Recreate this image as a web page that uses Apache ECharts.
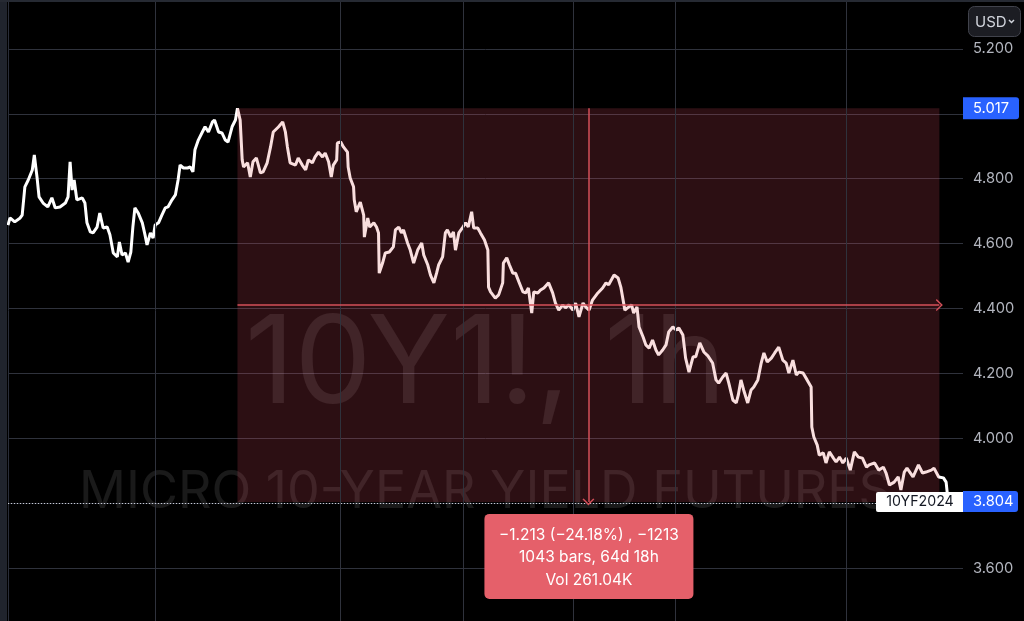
<!DOCTYPE html>
<html><head><meta charset="utf-8">
<script src="https://cdn.jsdelivr.net/npm/echarts@6/dist/echarts.min.js"></script>
<style>html,body{margin:0;padding:0;background:#000;}#c{width:1024px;height:621px;}</style>
</head><body><div id="c"></div>
<script>
// [bar number, close] (hourly bars)
const seg1 = [[0,4.657],[3,4.679],[10,4.667],[18,4.679],[21,4.688],[25,4.775],[30,4.796],[36,4.827],[39,4.873],[43,4.805],[46,4.744],[52,4.725],[59,4.713],[65,4.741],[70,4.710],[77,4.713],[85,4.725],[89,4.744],[92,4.852],[95,4.765],[98,4.796],[102,4.735],[110,4.741],[114,4.725],[117,4.664],[122,4.636],[126,4.633],[132,4.651],[136,4.694],[141,4.648],[147,4.651],[151,4.627],[156,4.571],[162,4.559],[165,4.605],[169,4.565],[174,4.571],[178,4.543],[182,4.574],[185,4.651],[188,4.710],[193,4.694],[199,4.664],[203,4.627],[206,4.596],[211,4.633],[215,4.617],[218,4.657],[223,4.664],[228,4.688],[233,4.710],[237,4.713],[243,4.735],[248,4.750],[252,4.796],[255,4.842],[260,4.833],[266,4.833],[270,4.836],[274,4.821],[277,4.889],[282,4.919],[288,4.944],[292,4.960],[297,4.944],[303,4.975],[306,4.981],[312,4.944],[317,4.941],[322,4.919],[326,4.913],[332,4.960],[337,4.981],[340,5.017]];
const seg2 = [[344,4.981],[347,4.858],[349,4.836],[355,4.849],[359,4.805],[363,4.852],[368,4.864],[374,4.818],[378,4.821],[384,4.849],[389,4.898],[393,4.944],[401,4.960],[407,4.975],[411,4.944],[414,4.898],[418,4.849],[426,4.842],[430,4.864],[436,4.842],[441,4.827],[445,4.858],[451,4.849],[455,4.867],[460,4.882],[466,4.867],[470,4.879],[475,4.852],[479,4.805],[482,4.842],[487,4.858],[488,4.910],[493,4.913],[497,4.898],[503,4.882],[504,4.836],[507,4.802],[512,4.775],[513,4.735],[516,4.698],[519,4.713],[522,4.728],[527,4.688],[528,4.620],[533,4.679],[536,4.651],[542,4.664],[546,4.651],[549,4.633],[550,4.509],[555,4.540],[559,4.571],[565,4.574],[571,4.590],[574,4.642],[579,4.651],[583,4.633],[586,4.642],[592,4.602],[596,4.580],[601,4.540],[607,4.580],[613,4.602],[616,4.565],[622,4.534],[626,4.503],[631,4.479],[635,4.509],[638,4.534],[644,4.559],[648,4.633],[651,4.642],[656,4.620],[660,4.636],[663,4.580],[668,4.633],[674,4.651],[678,4.664],[682,4.651],[687,4.698],[690,4.648],[696,4.648],[700,4.633],[706,4.611],[711,4.580],[712,4.466]];
const seg3 = [[715,4.451],[722,4.432],[727,4.442],[733,4.479],[734,4.540],[739,4.556],[743,4.534],[748,4.509],[752,4.509],[757,4.482],[763,4.451],[767,4.448],[771,4.463],[776,4.386],[779,4.451],[785,4.448],[789,4.457],[794,4.463],[801,4.479],[807,4.448],[811,4.417],[816,4.395],[822,4.411],[826,4.402],[831,4.411],[837,4.395],[841,4.417],[846,4.374],[852,4.417],[856,4.405],[861,4.395],[866,4.426],[874,4.448],[881,4.463],[886,4.479],[890,4.473],[898,4.503],[904,4.494],[908,4.466],[914,4.395],[918,4.402],[924,4.411],[927,4.386],[932,4.405],[935,4.343],[941,4.312],[945,4.288],[950,4.278],[955,4.303],[960,4.272],[964,4.257],[970,4.272],[975,4.288],[979,4.328],[985,4.343],[990,4.334],[994,4.340],[1000,4.318],[1004,4.247],[1009,4.204],[1015,4.251],[1019,4.251],[1025,4.294],[1031,4.266],[1037,4.254]];
const seg4 = [[1044,4.232],[1049,4.180],[1053,4.170],[1059,4.189],[1064,4.201],[1068,4.170],[1074,4.118],[1079,4.109],[1082,4.133],[1086,4.180],[1090,4.149],[1096,4.109],[1101,4.149],[1105,4.158],[1111,4.180],[1116,4.232],[1120,4.263],[1125,4.235],[1131,4.247],[1136,4.263],[1142,4.281],[1148,4.241],[1153,4.232],[1157,4.201],[1163,4.241],[1168,4.195],[1172,4.204],[1178,4.201],[1184,4.180],[1190,4.158],[1191,4.035],[1194,4.004],[1199,3.979],[1202,3.948],[1208,3.955],[1212,3.924],[1217,3.958],[1223,3.939],[1227,3.927],[1232,3.942],[1237,3.924],[1242,3.939],[1248,3.902],[1254,3.958],[1260,3.942],[1266,3.939],[1272,3.911],[1276,3.918],[1284,3.924],[1290,3.902],[1297,3.911],[1301,3.893],[1306,3.856],[1313,3.865],[1319,3.881],[1323,3.841],[1328,3.896],[1332,3.908],[1341,3.881],[1349,3.918],[1355,3.893],[1360,3.896],[1368,3.902],[1372,3.908],[1379,3.881],[1386,3.878],[1390,3.865],[1393,3.804]];

const measureStart = [340, 5.017];
const measureEnd = [1380, 3.804];
const lastPrice = 3.804;
const timeGridBars = [218, 493, 675, 837, 988, 1242];
const priceMin = 3.4, priceMax = 5.4, priceStep = 0.2;
const measureText = ['\u22121.213 (\u221224.18%) , \u22121213', '1043 bars, 64d 18h', 'Vol 261.04K'];
const symbolLabel = '10YF2024';
const watermarkText = ['10Y1!, 1h', 'MICRO 10-YEAR YIELD FUTURES'];
const currencyLabel = 'USD';

const closes = seg1.concat(seg2, seg3, seg4);
const FONT = 'Inter, "Noto Sans", sans-serif';
const chart = echarts.init(document.getElementById('c'), null, {renderer: 'canvas'});
const midPrice = (measureStart[1] + measureEnd[1]) / 2;
const midBar = (measureStart[0] + measureEnd[0]) / 2;
const chev = 'path://M0,7 L6,0 L12,7 L10.8,7.9 L6,2.3 L1.2,7.9 Z';
const red = '#d4505a';

chart.setOption({
  backgroundColor: '#000',
  animation: false,
  grid: {left: 8, right: 61, top: -16, bottom: -12, outerBoundsMode: 'none', containLabel: false},
  xAxis: {type: 'value', min: 0, max: 1415, show: false},
  yAxis: {
    type: 'value', position: 'right', min: priceMin, max: priceMax, interval: priceStep,
    axisLine: {show: true, lineStyle: {color: '#2a2e39'}}, axisTick: {show: false},
    axisLabel: {color: '#b2b5be', fontSize: 14.7, fontFamily: FONT, margin: 10, formatter: v => v.toFixed(3)},
    splitLine: {lineStyle: {color: '#2f323c', width: 1}}
  },
  visualMap: {
    show: false, type: 'piecewise', seriesIndex: 2, dimension: 0,
    pieces: [{lt: measureStart[0], color: '#ffffff'}, {gte: measureStart[0], lte: measureEnd[0], color: '#f9dede'}, {gt: measureEnd[0], color: '#ffffff'}]
  },
  series: [
    {type: 'line', name: 'grid', data: [], silent: true, z: 1,
      markLine: {silent: true, symbol: 'none', animation: false, label: {show: false},
        lineStyle: {color: '#2f323c', width: 1, type: 'solid'},
        data: timeGridBars.map(b => ({xAxis: b})).concat([{yAxis: lastPrice, lineStyle: {type: [1, 2], color: '#c9ccd4', width: 1}}])}},
    {type: 'line', name: 'measure', data: [], silent: true, z: 1,
      markArea: {silent: true, itemStyle: {color: 'rgba(235,80,100,0.19)'},
        data: [[{coord: measureStart}, {coord: measureEnd}]]},
      markLine: {silent: true, animation: false, symbol: ['none', chev], symbolSize: [12, 7],
        label: {show: false}, lineStyle: {color: red, width: 1.5, type: 'solid'},
        data: [[{coord: [measureStart[0], midPrice]}, {coord: [measureEnd[0], midPrice]}],
               [{coord: [midBar, measureStart[1]]}, {coord: [midBar, measureEnd[1]]}]]}},
    {type: 'line', name: '10Y1!', data: closes, showSymbol: false, z: 3,
      lineStyle: {width: 3}}
  ]
});

const px = (b, p) => chart.convertToPixel({gridIndex: 0}, [b, p]);
const axisX = px(1415, 4)[0];
const yTop = px(0, measureStart[1])[1];
const yLast = px(0, lastPrice)[1];
const cx = px(midBar, 4)[0];
const yBoxBottom = px(0, measureEnd[1])[1];

chart.setOption({
  graphic: [
    {type: 'text', z: 0, silent: true, x: (8 + axisX) / 2, y: 366,
      style: {text: watermarkText[0], fontSize: 122, fontFamily: FONT, fill: 'rgba(255,255,255,0.1)', align: 'center', verticalAlign: 'middle'}},
    {type: 'text', z: 0, silent: true, x: (8 + axisX) / 2, y: 492,
      style: {text: watermarkText[1], fontSize: 52, fontFamily: FONT, fill: 'rgba(255,255,255,0.1)', align: 'center', verticalAlign: 'middle'}},
    {type: 'rect', z: 50, silent: true, shape: {x: 0, y: 0, width: 7, height: 621}, style: {fill: '#20242d'}},
    {type: 'rect', z: 50, silent: true, shape: {x: 0, y: 0, width: 1024, height: 2}, style: {fill: '#262a33'}},
    // price labels
    {type: 'rect', z: 60, silent: true, shape: {x: axisX, y: yTop - 11, width: 56, height: 22, r: [0, 3, 3, 0]}, style: {fill: '#2962ff'}},
    {type: 'text', z: 61, silent: true, x: axisX + 10, y: yTop, style: {text: measureStart[1].toFixed(3), fontSize: 14.7, fontFamily: FONT, fill: '#fff', verticalAlign: 'middle'}},
    {type: 'rect', z: 60, silent: true, shape: {x: axisX, y: yLast - 11, width: 55, height: 21, r: [0, 3, 3, 0]}, style: {fill: '#2962ff'}},
    {type: 'text', z: 61, silent: true, x: axisX + 10, y: yLast, style: {text: lastPrice.toFixed(3), fontSize: 14.7, fontFamily: FONT, fill: '#fff', verticalAlign: 'middle'}},
    {type: 'rect', z: 60, silent: true, shape: {x: axisX - 87, y: yLast - 10, width: 87, height: 20, r: [2, 0, 0, 2]}, style: {fill: '#ffffff'}},
    {type: 'text', z: 61, silent: true, x: axisX - 43, y: yLast, style: {text: symbolLabel, fontSize: 14.2, fontFamily: FONT, fill: '#131722', align: 'center', verticalAlign: 'middle'}},
    // measure info box
    {type: 'rect', z: 60, silent: true, shape: {x: cx - 104, y: yBoxBottom + 12, width: 209, height: 85, r: 5}, style: {fill: '#e5606a'}},
    {type: 'text', z: 61, silent: true, x: cx + 0.5, y: yBoxBottom + 33, style: {text: measureText[0], fontSize: 15.5, fontFamily: FONT, fill: '#fff', align: 'center', verticalAlign: 'middle'}},
    {type: 'text', z: 61, silent: true, x: cx + 0.5, y: yBoxBottom + 55, style: {text: measureText[1], fontSize: 15.5, fontFamily: FONT, fill: '#fff', align: 'center', verticalAlign: 'middle'}},
    {type: 'text', z: 61, silent: true, x: cx + 0.5, y: yBoxBottom + 78, style: {text: measureText[2], fontSize: 15.5, fontFamily: FONT, fill: '#fff', align: 'center', verticalAlign: 'middle'}},
    // currency button
    {type: 'rect', z: 60, silent: true, shape: {x: 968.5, y: 6.5, width: 52, height: 30, r: 6}, style: {fill: '#1c1d23', stroke: '#41434c', lineWidth: 1}},
    {type: 'text', z: 61, silent: true, x: 975, y: 22, style: {text: currencyLabel, fontSize: 15, fontFamily: FONT, fill: '#d1d4dc', verticalAlign: 'middle'}},
    {type: 'polyline', z: 61, silent: true, shape: {points: [[1009, 20], [1011.5, 22.5], [1014, 20]]}, style: {stroke: '#d1d4dc', lineWidth: 1.5, fill: null}}
  ]
});
</script>
</body></html>
